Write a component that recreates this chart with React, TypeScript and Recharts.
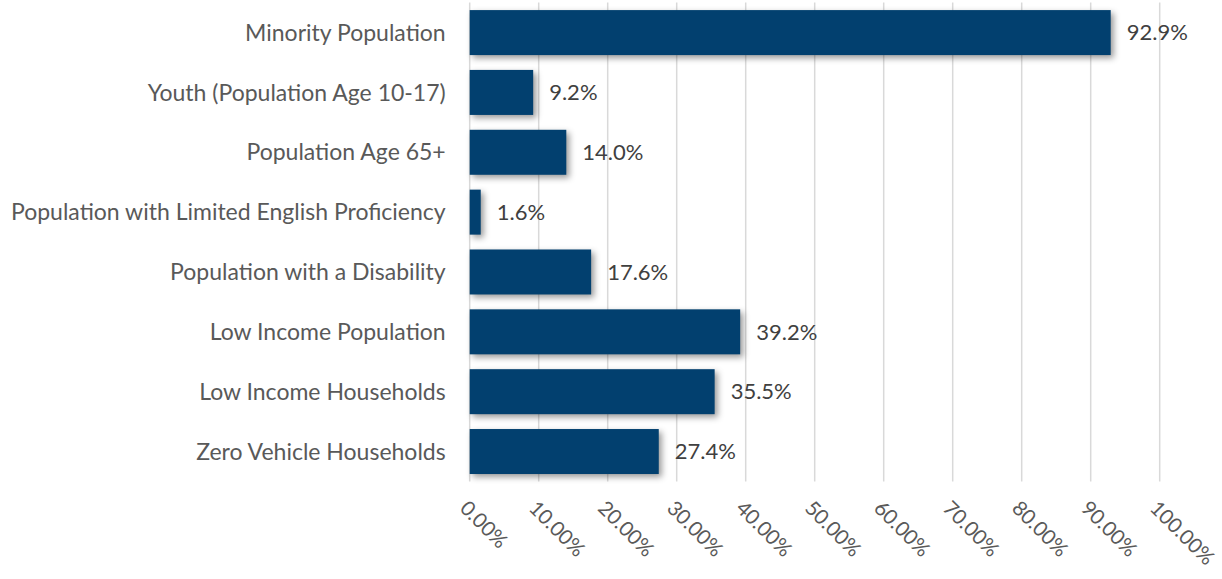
import { Bar, BarChart, CartesianGrid, LabelList, XAxis, YAxis } from "recharts";

const categories = [
  "Minority Population",
  "Youth (Population Age 10-17)",
  "Population Age 65+",
  "Population with Limited English Proficiency",
  "Population with a Disability",
  "Low Income Population",
  "Low Income Households",
  "Zero Vehicle Households",
];

const shares = [92.9, 9.2, 14.0, 1.6, 17.6, 39.2, 35.5, 27.4];

const xTicks = [0, 10, 20, 30, 40, 50, 60, 70, 80, 90, 100];

const data = categories.map((name, i) => ({ name, value: shares[i] }));

const FONT = "Lato, 'Open Sans', sans-serif";

function ShadowBar(props: any) {
  const { x, y, width, height, fill } = props;
  if (width <= 0) return null;
  return (
    <rect
      x={x}
      y={y}
      width={width}
      height={height}
      fill={fill}
      style={{ filter: "drop-shadow(3px 3px 3px rgba(0,0,0,0.4))" }}
    />
  );
}

function XTick(props: any) {
  const { x, y, payload } = props;
  return (
    <g transform={`translate(${x - 11},${y + 28})`}>
      <text transform="rotate(45)" textAnchor="start" fill="#595959" fontSize={20.5} fontFamily={FONT}>
        {`${payload.value.toFixed(2)}%`}
      </text>
    </g>
  );
}

export default function App() {
  return (
    <div style={{ position: "absolute", left: 0, top: 0, background: "#fff" }}>
      <BarChart
        width={1222}
        height={579}
        data={data}
        layout="vertical"
        barCategoryGap="12.5%"
        margin={{ top: 2.6, right: 62.3, bottom: 0.6, left: 0 }}
      >
        <CartesianGrid horizontal={false} stroke="#d9d9d9" strokeWidth={1.5} />
        <XAxis
          type="number"
          domain={[0, 100]}
          ticks={xTicks}
          interval={0}
          axisLine={false}
          tickLine={false}
          tickSize={0}
          tickMargin={0}
          height={97}
          tick={<XTick />}
        />
        <YAxis
          type="category"
          dataKey="name"
          width={469.7}
          axisLine={false}
          tickLine={false}
          tickSize={0}
          tickMargin={24}
          tick={{ fill: "#595959", fontSize: 23, fontFamily: FONT }}
        />
        <Bar dataKey="value" fill="#02406F" isAnimationActive={false} shape={<ShadowBar />}>
          <LabelList
            dataKey="value"
            position="right"
            offset={16}
            formatter={(v: any) => `${Number(v).toFixed(1)}%`}
            style={{ fill: "#404040", fontSize: 22, fontFamily: FONT }}
          />
        </Bar>
      </BarChart>
    </div>
  );
}
